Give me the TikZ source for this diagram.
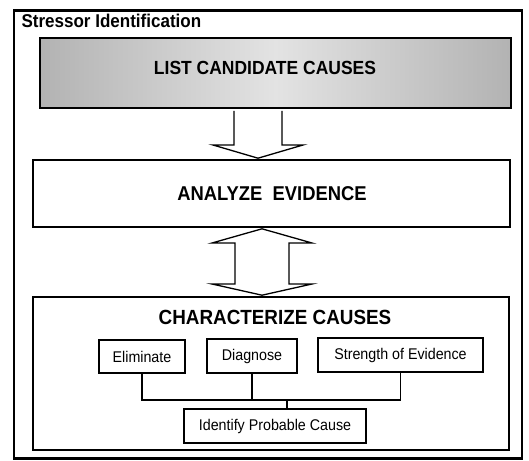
\documentclass[tikz,border=0pt]{standalone}
\usepackage{fontspec}
\setmainfont{Liberation Sans}
\newfontfamily\narrowfont[FakeStretch=0.92]{Liberation Sans}
\usetikzlibrary{calc}
\begin{document}
\begin{tikzpicture}[x=1pt,y=-1pt,
  box/.style={draw=black,line width=1.6pt,rectangle,inner sep=0pt,fill=white},
  small/.style={draw=black,line width=1.1pt,rectangle,inner sep=0pt,font=\narrowfont\fontsize{15.5}{17}\selectfont},
  big/.style={font=\narrowfont\bfseries\fontsize{19}{21}\selectfont},
  blockarrow/.style={draw=black,line width=1.3pt,fill=white,line join=miter},
  link/.style={draw=black,line width=1.1pt}]
\useasboundingbox (0,0) rectangle (529,460);
% outer frame
\node[draw=black,line width=2.6pt,minimum width=508pt,minimum height=448pt,inner sep=0pt] (frame) at (268,234.5) {};
\node[anchor=west,font=\narrowfont\bfseries\fontsize{18.5}{20}\selectfont] (title) at (18,21) {Stressor Identification};
% list candidate causes
\node[draw=black,line width=2.8pt,minimum width=471pt,minimum height=70pt,inner sep=0pt,
  left color=gray!60,right color=gray!60,middle color=gray!22] (list) at (275.5,73) {};
\node[big] (listtxt) at (265,68) {LIST CANDIDATE CAUSES};
% analyze evidence
\node[box,minimum width=477pt,minimum height=67pt] (analyze) at (271.5,193.5) {};
\node[big,font=\narrowfont\bfseries\fontsize{20}{22}\selectfont] (analyzetxt) at (272,194) {ANALYZE\ \ EVIDENCE};
% characterize causes
\node[box,minimum width=476pt,minimum height=153pt] (char) at (271,373.5) {};
\node[big,font=\narrowfont\bfseries\fontsize{20.5}{22}\selectfont] (chartxt) at (275,317) {CHARACTERIZE CAUSES};
\node[small,minimum width=86pt,minimum height=33pt] (elim) at (142,356.5) {Eliminate};
\node[small,minimum width=90pt,minimum height=34pt] (diag) at (252,356) {Diagnose};
\node[small,minimum width=165pt,minimum height=34pt] (str) at (400.5,355) {Strength of Evidence};
\node[small,minimum width=182pt,minimum height=34pt] (ident) at (275,426) {Identify Probable Cause};
% connectors
\coordinate (hl) at (0,400);
\draw[link] (elim.south) -- (elim.south |- hl) -- (str.south |- hl) -- (str.south);
\draw[link] (diag.south) -- (diag.south |- hl);
\draw[link] (ident.north -| 287,0) -- (287,400);
% down block arrow
\coordinate (d) at (258,0);
\draw[blockarrow] ($(d |- list.south)+(-24,1.5)$) -- ($(d)+(-24,145)$) -- ($(d)+(-45,145)$)
  -- ($(d |- analyze.north)+(0,-1)$) -- ($(d)+(45,145)$) -- ($(d)+(24,145)$) -- ($(d |- list.south)+(24,1.5)$);
% double block arrow
\coordinate (u) at (262,0);
\draw[blockarrow] ($(u |- analyze.south)+(0,1)$) -- ($(u)+(50,243)$) -- ($(u)+(27,243)$) -- ($(u)+(27,284)$)
  -- ($(u)+(50,284)$) -- ($(u |- char.north)+(0,-1)$) -- ($(u)+(-50,284)$) -- ($(u)+(-27,284)$)
  -- ($(u)+(-27,243)$) -- ($(u)+(-50,243)$) -- cycle;
\end{tikzpicture}
\end{document}
